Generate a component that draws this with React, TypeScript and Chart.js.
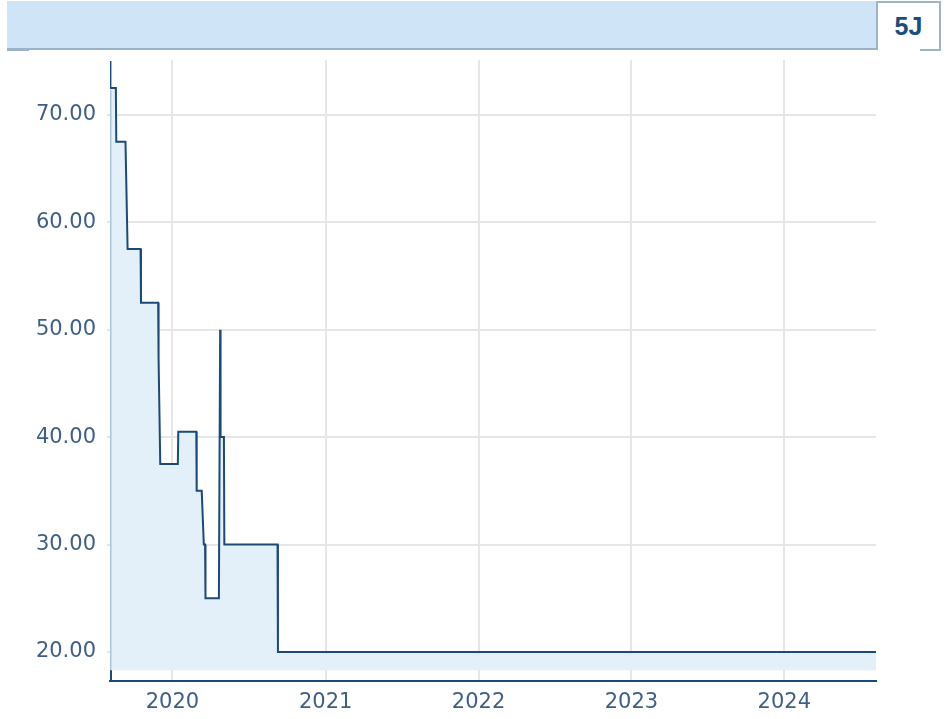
import React, { useEffect, useRef } from "react";
import { Chart, registerables } from "chart.js";

Chart.register(...registerables);

const DATES = [
  "2019-08-05", "2019-08-06", "2019-08-19", "2019-08-20", "2019-09-11", "2019-09-16",
  "2019-10-17", "2019-10-18", "2019-11-28", "2019-11-29", "2019-12-03", "2020-01-14",
  "2020-01-15", "2020-02-27", "2020-02-28", "2020-03-11", "2020-03-16", "2020-03-19",
  "2020-03-20", "2020-04-21", "2020-04-24", "2020-04-25", "2020-05-03", "2020-05-04",
  "2020-09-08", "2020-09-09", "2024-08-07",
];
const PRICES = [
  75, 72.5, 72.5, 67.5, 67.5, 57.5,
  57.5, 52.5, 52.5, 47.3, 37.5, 37.5,
  40.5, 40.5, 35, 35, 30, 30,
  25, 25, 50, 40, 40, 30,
  30, 20, 20,
];
const YEAR_TICKS = [2020, 2021, 2022, 2023, 2024];
const Y_TICKS = [20, 30, 40, 50, 60, 70];
const Y_MIN = 17.3;
const Y_MAX = 75.1;
const FILL_BASE = 18.3;
const BADGE = "5J";

const NAVY = "#1c4a78";
const LABEL = "#3f5f85";
const GRID = "#e6e6e6";
const FONT = { family: "'DejaVu Sans', Verdana, sans-serif", size: 21 };

export default function App() {
  const ref = useRef<HTMLCanvasElement | null>(null);

  useEffect(() => {
    if (!ref.current) return;
    const points = DATES.map((d, i) => ({ x: Date.parse(d), y: PRICES[i] }));
    const edgePlugin = {
      id: "edge",
      afterDatasetsDraw(chart: any) {
        const { ctx, chartArea, scales } = chart;
        const y = scales.y;
        const left = chartArea.left;
        ctx.save();
        ctx.strokeStyle = "#aac6e2";
        ctx.lineWidth = 1.5;
        ctx.beginPath();
        ctx.moveTo(left + 0.75, y.getPixelForValue(PRICES[1]) + 2);
        ctx.lineTo(left + 0.75, y.getPixelForValue(FILL_BASE));
        ctx.stroke();
        ctx.strokeStyle = NAVY;
        ctx.lineWidth = 2;
        ctx.beginPath();
        ctx.moveTo(left + 1, y.getPixelForValue(FILL_BASE));
        ctx.lineTo(left + 1, chartArea.bottom);
        ctx.stroke();
        ctx.restore();
      },
    };
    const chart = new Chart(ref.current, {
      type: "line",
      data: {
        datasets: [
          {
            data: points,
            borderColor: NAVY,
            borderWidth: 2,
            backgroundColor: "#e3eff9",
            fill: { value: FILL_BASE },
            pointRadius: 0,
            tension: 0,
          },
        ],
      },
      options: {
        animation: false,
        responsive: false,
        devicePixelRatio: 1,
        layout: { padding: { top: 10, right: 73, left: 0, bottom: 0 } },
        plugins: { legend: { display: false }, tooltip: { enabled: false } },
        scales: {
          x: {
            type: "linear",
            min: Date.parse(DATES[0]),
            max: Date.parse(DATES[DATES.length - 1]),
            afterBuildTicks: (s: any) => {
              s.ticks = YEAR_TICKS.map((yr) => ({ value: Date.UTC(yr, 0, 1) }));
            },
            afterFit: (s: any) => {
              s.height = 38;
              s.paddingLeft = 0;
              s.paddingRight = 0;
            },
            ticks: {
              callback: (v: any) => String(new Date(v).getUTCFullYear()),
              font: FONT,
              color: LABEL,
              padding: 9,
              maxRotation: 0,
              autoSkip: false,
            },
            grid: { color: GRID, lineWidth: 2, drawTicks: false },
            border: { color: NAVY, width: 2 },
          },
          y: {
            min: Y_MIN,
            max: Y_MAX,
            afterBuildTicks: (s: any) => {
              s.ticks = Y_TICKS.map((v) => ({ value: v }));
            },
            afterFit: (s: any) => {
              s.width = 110;
              s.paddingTop = 0;
              s.paddingBottom = 0;
            },
            ticks: {
              callback: (v: any) => Number(v).toFixed(2),
              font: FONT,
              color: LABEL,
              padding: 11,
            },
            grid: { color: GRID, lineWidth: 2, tickLength: 3, drawTicks: true },
            border: { display: false },
          },
        },
      },
      plugins: [edgePlugin],
    } as any);
    return () => chart.destroy();
  }, []);

  return (
    <div>
      <div
        style={{
          position: "absolute",
          left: 7,
          top: 1,
          width: 869,
          height: 47,
          background: "#cfe4f7",
          borderBottom: "2px solid #9bb2c8",
        }}
      />
      <div style={{ position: "absolute", left: 7, top: 50, width: 22, height: 1, background: "#9bb2c8" }} />
      <div
        style={{
          position: "absolute",
          left: 876,
          top: 1,
          width: 61,
          height: 47,
          background: "#ffffff",
          borderLeft: "2px solid #9db3ca",
          borderRight: "2px solid #9db3ca",
          borderTop: "2px solid #9db3ca",
          display: "flex",
          alignItems: "center",
          justifyContent: "center",
          fontFamily: "'Liberation Sans', Arial, sans-serif",
          fontWeight: "bold",
          fontSize: 25,
          color: "#1b4d7e",
        }}
      >
        {BADGE}
      </div>
      <div style={{ position: "absolute", left: 876, top: 48, width: 2, height: 2, background: "#9db3ca" }} />
      <div style={{ position: "absolute", left: 920, top: 49, width: 21, height: 2, background: "#9db3ca" }} />
      <canvas
        ref={ref}
        width={949}
        height={669}
        style={{ position: "absolute", left: 0, top: 50, width: 949, height: 669 }}
      />
    </div>
  );
}
